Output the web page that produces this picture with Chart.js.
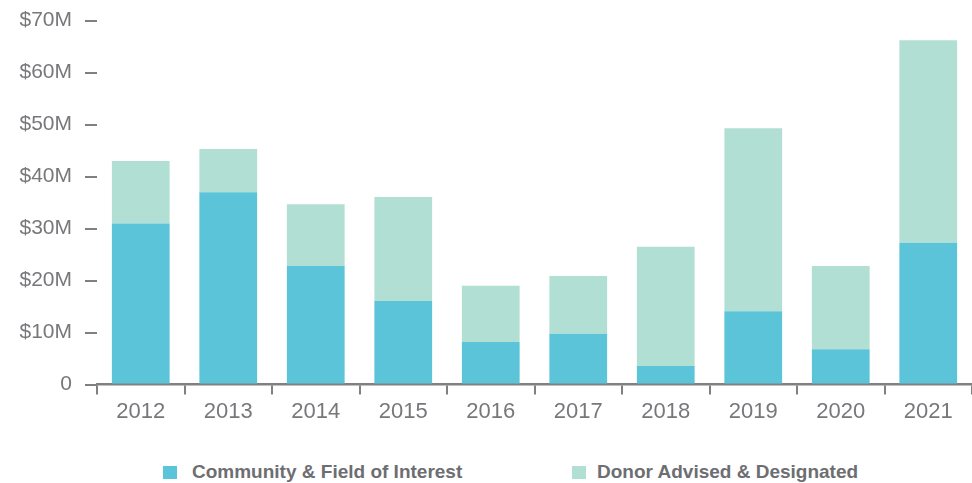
<!DOCTYPE html>
<html lang="en">
<head>
    <meta charset="UTF-8">
    <title>Fund Grants 2012-2021</title>
    <style>
        html, body { margin: 0; padding: 0; background: #fff; }
        .wrap { position: relative; width: 972px; height: 483px; overflow: hidden; }
        .chart-box { position: absolute; left: 0; top: -5px; width: 972px; height: 445px; }
        .legend { position: absolute; top: 458px; left: 0; width: 972px; height: 25px;
                  font-family: "Liberation Sans", Arial, sans-serif; font-weight: bold;
                  font-size: 19px; line-height: 1.15; color: #6d6e71; }
        .legend span.sw { position: absolute; top: 8px; width: 14px; height: 13px; }
        .legend span.lbl { position: absolute; top: 3px; white-space: nowrap; }
    </style>
</head>
<body>
<div class="wrap">
    <div class="chart-box"><canvas id="grantsChart"></canvas></div>
    <div class="legend" id="legend"></div>
</div>

<script src="https://cdn.jsdelivr.net/npm/chart.js"></script>
<script>
// values in $ millions
const years = ['2012', '2013', '2014', '2015', '2016', '2017', '2018', '2019', '2020', '2021'];
const communityField = [31.0, 37.0, 22.8, 16.1, 8.2, 9.8, 3.6, 14.1, 6.8, 27.3];
const donorAdvised = [12.0, 8.3, 11.9, 20.0, 10.8, 11.1, 22.9, 35.2, 16.0, 38.9];
const seriesNames = ['Community & Field of Interest', 'Donor Advised & Designated'];
const seriesColors = ['#5bc4d9', '#b2dfd3'];

const axisGray = '#808082';
const labelGray = '#77787b';

const ctx = document.getElementById('grantsChart').getContext('2d');
new Chart(ctx, {
    type: 'bar',
    data: {
        labels: years,
        datasets: [
            { label: seriesNames[0], data: communityField, backgroundColor: seriesColors[0] },
            { label: seriesNames[1], data: donorAdvised, backgroundColor: seriesColors[1] }
        ]
    },
    options: {
        responsive: true,
        maintainAspectRatio: false,
        animation: false,
        layout: { padding: { top: 4, right: 0, bottom: 11, left: 0 } },
        datasets: { bar: { barPercentage: 0.66, categoryPercentage: 1.0 } },
        plugins: { legend: { display: false }, tooltip: { enabled: false } },
        scales: {
            x: {
                stacked: true,
                grid: { display: true, drawOnChartArea: false, drawTicks: true, tickLength: 10,
                        color: axisGray, lineWidth: 2, offset: true },
                border: { display: true, color: axisGray, width: 2.5 },
                ticks: { color: labelGray, padding: 4, font: { family: '"Liberation Sans", Arial, sans-serif', size: 22 } }
            },
            y: {
                stacked: true,
                min: 0,
                max: 70,
                afterFit: function (scale) { scale.width = 97; },
                grid: { display: true, drawOnChartArea: false, drawTicks: true, tickLength: 12,
                        color: axisGray, lineWidth: 2 },
                border: { display: false },
                ticks: {
                    stepSize: 10,
                    color: labelGray,
                    padding: 13,
                    font: { family: '"Liberation Sans", Arial, sans-serif', size: 21 },
                    callback: v => v === 0 ? '0' : '$' + v + 'M'
                }
            }
        }
    }
});

// legend below the chart
const legendBox = [163, 572];
const legendText = [192, 597];
const legend = document.getElementById('legend');
seriesNames.forEach((name, i) => {
    const sw = document.createElement('span');
    sw.className = 'sw';
    sw.style.left = legendBox[i] + 'px';
    sw.style.background = seriesColors[i];
    const lbl = document.createElement('span');
    lbl.className = 'lbl';
    lbl.style.left = legendText[i] + 'px';
    lbl.textContent = name;
    legend.appendChild(sw);
    legend.appendChild(lbl);
});
</script>
</body>
</html>
